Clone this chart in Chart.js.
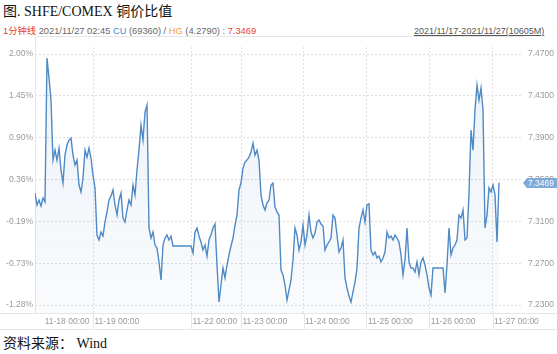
<!DOCTYPE html>
<html><head><meta charset="utf-8">
<script src="https://cdn.jsdelivr.net/npm/chart.js@4/dist/chart.umd.min.js"></script>
<style>
html,body{margin:0;padding:0;background:#fff;width:557px;height:354px;overflow:hidden;position:relative}
.t{position:absolute;white-space:nowrap}
#title{left:3px;top:3px;font-size:14px;font-family:"Liberation Serif","Noto Sans CJK SC",serif;color:#111;line-height:18px}
#info{left:3px;top:25px;font-size:9.3px;font-family:"Liberation Sans","Noto Sans CJK SC",sans-serif;line-height:12px;color:#666}
#range{left:414px;top:25px;font-size:9px;font-family:"Liberation Sans",sans-serif;color:#555;text-decoration:underline;line-height:12px}
#src{left:3px;top:335px;font-size:14px;font-family:"Liberation Serif","Noto Sans CJK SC",serif;line-height:18px;color:#111}
#wrap{position:absolute;left:0;top:36px;width:557px;height:294px}
</style></head>
<body>
<div class="t" id="title">图. SHFE/COMEX 铜价比值</div>
<div class="t" id="info"></div>
<div class="t" id="range"></div>
<div id="wrap"><canvas id="c"></canvas></div>
<div class="t" id="src">资料来源： Wind</div>
<script>
// ---- data ----
const ratioValues = [
7.3371,7.3257,7.3305,7.3248,7.3324,7.3286,7.4662,7.4471,7.4260,7.3687,
7.3782,7.3687,7.3801,7.3591,7.3467,7.3734,7.3830,7.3878,7.3897,7.3734,
7.3639,7.3687,7.3448,7.3382,7.3515,7.3782,7.3715,7.3801,7.3706,7.3543,
7.3420,7.2970,7.2922,7.2998,7.2960,7.3094,7.3190,7.3305,7.3343,7.3401,
7.3257,7.3161,7.3305,7.3371,7.3132,7.3094,7.3209,7.3305,7.3257,7.3448,
7.3353,7.3591,7.3782,7.4021,7.3878,7.4145,7.4212,7.3037,7.2941,7.2998,
7.2874,7.2845,7.2712,7.2540,7.2874,7.2941,7.2970,7.2922,7.2960,
7.2865,7.2865,7.2865,7.2865,7.2865,7.2865,7.2865,7.2865,7.2865,7.2865,
7.2798,7.2998,7.3037,7.2960,7.2903,7.2826,7.2874,7.2769,7.2922,7.2970,
7.3037,7.3075,7.2683,7.2329,7.2492,7.2654,7.2559,7.2683,7.2779,7.2865,
7.2941,7.3065,7.3161,7.3401,7.3467,7.3610,7.3668,7.3687,7.3715,7.3763,
7.3849,7.3734,7.3782,7.3687,7.3353,7.3257,7.3209,7.3276,7.3305,7.3448,
7.3467,7.3238,7.3190,7.3161,7.2635,7.2588,7.2492,7.2348,7.2444,7.2540,
7.2731,7.3037,7.2970,7.2826,7.2903,7.3065,7.2874,7.2970,7.3161,7.2998,
7.2941,7.2989,7.3094,7.3113,7.3075,7.3056,7.2826,7.2874,7.2903,7.2941,
7.3161,7.3132,7.2970,7.2807,7.2845,7.2922,7.2559,7.2463,7.2386,7.2329,
7.2425,7.2520,7.2654,7.3037,7.3132,7.3209,7.3094,7.3257,7.3267,7.2826,
7.2779,7.2807,7.2750,7.2769,7.2712,7.2750,7.2807,7.2998,7.2941,7.2960,
7.2922,7.2970,7.2941,7.2903,7.2779,7.2588,7.2731,7.3037,7.2712,7.2654,
7.2654,7.2616,7.2712,7.2588,7.2712,7.2750,7.2683,7.2588,7.2463,7.2396,
7.2654,7.2654,7.2654,7.2654,7.2654,7.2654,
7.2415,7.2683,7.3037,7.2779,7.2845,7.2874,7.2922,7.3161,7.3132,7.3209,
7.2922,7.2941,7.3371,7.3973,7.3782,7.4165,7.4404,7.4260,7.4375,7.4165,
7.3037,7.3161,7.3420,7.3382,7.3448,7.3353,7.2903,7.3469
];
const rightTicks = [7.23, 7.27, 7.31, 7.35, 7.39, 7.43, 7.47];
const leftTickLabels = ['-1.28%', '-0.73%', '-0.19%', '0.36%', '0.90%', '1.45%', '2.00%'];
const dayLabels = ['11-18 00:00','11-19 00:00','11-22 00:00','11-23 00:00','11-24 00:00','11-25 00:00','11-26 00:00','11-27 00:00'];
const dayTickIdx = [4.1, 29, 78, 103, 134.25, 165.7, 197.15, 228.8];
const freqLabel = '1分钟线';
const stampLabel = '2021/11/27 02:45';
const cuPrice = '69360';
const hgPrice = '4.2790';
const lastRatio = 7.3469;
const rangeLabel = '2021/11/17-2021/11/27(10605M)';

document.getElementById('info').innerHTML =
  '<span style="color:#e8412c">' + freqLabel + '</span> ' + stampLabel +
  ' <span style="color:#3d8bd6">CU</span> (' + cuPrice + ') / <span style="color:#f0a13a">HG</span> (' + hgPrice +
  ') : <span style="color:#e8412c">' + lastRatio.toFixed(4) + '</span>';
document.getElementById('range').textContent = rangeLabel;

const LINE = '#4f8ac6';
const GRID = '#dedede';
const TICKC = '#9a9a9a';
const FONT = '"Liberation Sans", Arial, sans-serif';

const decor = {
  id: 'decor',
  beforeDatasetsDraw(chart) {
    const {ctx, chartArea: a, scales} = chart;
    ctx.save();
    ctx.strokeStyle = '#e6e6e6';
    ctx.lineWidth = 1;
    ctx.beginPath();
    ctx.moveTo(a.left, 0.5); ctx.lineTo(a.right + 2, 0.5);
    ctx.moveTo(Math.round(a.left) + 0.5, 0); ctx.lineTo(Math.round(a.left) + 0.5, a.bottom);
    ctx.moveTo(0, Math.round(a.bottom) + 0.5); ctx.lineTo(chart.width, Math.round(a.bottom) + 0.5);
    const sb = scales.x.bottom - 1;
    ctx.moveTo(0, sb + 0.5); ctx.lineTo(chart.width, sb + 0.5);
    scales.x.ticks.forEach((t, i) => {
      if (i === 0) return;
      const px = Math.round(scales.x.getPixelForValue(t.value)) + 0.5;
      ctx.moveTo(px, a.bottom); ctx.lineTo(px, sb);
    });
    ctx.stroke();
    ctx.restore();
  },
  afterDraw(chart) {
    const {ctx, chartArea: a, scales} = chart;
    const y = Math.round(scales.y.getPixelForValue(lastRatio));
    ctx.save();
    ctx.fillStyle = '#7eaad8';
    ctx.beginPath();
    ctx.moveTo(a.right + 1, y);
    ctx.lineTo(a.right + 5, y - 5);
    ctx.lineTo(chart.width, y - 5);
    ctx.lineTo(chart.width, y + 5);
    ctx.lineTo(a.right + 5, y + 5);
    ctx.closePath();
    ctx.fill();
    ctx.fillStyle = '#ffffff';
    ctx.font = '8.5px ' + FONT;
    ctx.textBaseline = 'middle';
    ctx.fillText(lastRatio.toFixed(4), a.right + 6, y + 0.5);
    ctx.restore();
  }
};

new Chart(document.getElementById('c'), {
  type: 'line',
  data: {
    datasets: [{
      data: ratioValues.map((v, i) => ({x: i, y: v})),
      borderColor: LINE,
      borderWidth: 1.4,
      pointRadius: 0,
      tension: 0,
      fill: 'start',
      backgroundColor: (c) => {
        const a = c.chart.chartArea;
        if (!a) return 'rgba(70,131,192,0.06)';
        const g = c.chart.ctx.createLinearGradient(0, a.top, 0, a.bottom);
        g.addColorStop(0, 'rgba(70,131,192,0.10)');
        g.addColorStop(1, 'rgba(70,131,192,0.03)');
        return g;
      },
      yAxisID: 'y'
    }]
  },
  options: {
    responsive: true,
    maintainAspectRatio: false,
    animation: false,
    events: [],
    layout: {padding: {top: 11, left: 0, right: 0, bottom: 0}},
    plugins: {legend: {display: false}, tooltip: {enabled: false}},
    scales: {
      x: {
        type: 'linear',
        min: 0,
        max: 243.5,
        afterBuildTicks: (s) => { s.ticks = dayTickIdx.map(v => ({value: v})); },
        ticks: {
          autoSkip: false, maxRotation: 0, minRotation: 0, align: 'start', labelOffset: 1.5,
          padding: 4, color: TICKC, font: {size: 8.5, family: FONT},
          callback: (v, i) => dayLabels[i]
        },
        grid: {
          color: (c) => (c.index === 0 ? 'rgba(0,0,0,0)' : GRID),
          drawTicks: false, lineWidth: 1
        },
        border: {display: false, dash: [2, 2]},
        afterFit: (s) => { s.height = 17; }
      },
      y: {
        position: 'left',
        min: 7.2224,
        max: 7.4767,
        afterBuildTicks: (s) => { s.ticks = rightTicks.map(v => ({value: v})); },
        ticks: {color: TICKC, font: {size: 8.5, family: FONT}, padding: 2,
          callback: (v, i) => leftTickLabels[i]},
        grid: {color: GRID, drawTicks: false},
        border: {display: false, dash: [2, 2]},
        afterFit: (s) => { s.width = 35; }
      },
      y2: {
        position: 'right',
        min: 7.2224,
        max: 7.4767,
        afterBuildTicks: (s) => { s.ticks = rightTicks.map(v => ({value: v})); },
        ticks: {color: TICKC, font: {size: 8.5, family: FONT}, padding: 6,
          callback: (v) => Number(v).toFixed(4)},
        grid: {display: false, drawTicks: false},
        border: {display: false},
        afterFit: (s) => { s.width = 35; }
      }
    }
  },
  plugins: [decor]
});
</script>
</body></html>
